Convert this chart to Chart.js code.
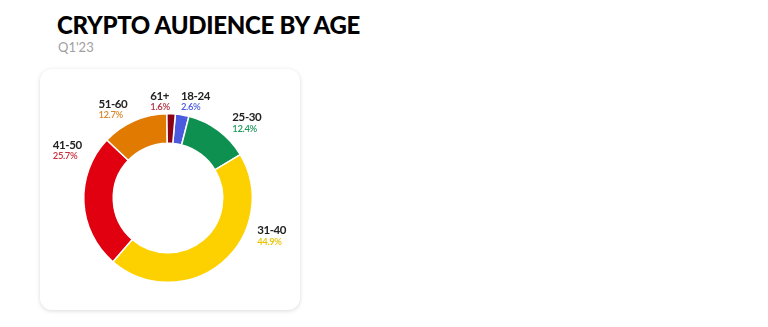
<!DOCTYPE html>
<html>
<head>
<meta charset="utf-8">
<script src="https://cdn.jsdelivr.net/npm/chart.js@4"></script>
<style>
  html, body { margin: 0; padding: 0; background: #fff; width: 768px; height: 327px; overflow: hidden; }
  h1 { position: absolute; left: 57px; top: 10px; margin: 0; font-family: Lato, sans-serif; font-weight: 900; font-size: 24px; letter-spacing: -0.3px; color: #000; }
  .sub { position: absolute; left: 58px; top: 39px; font-family: Lato, sans-serif; font-weight: 400; font-size: 13px; color: #a0a0a0; }
  .card { position: absolute; left: 40px; top: 69px; width: 260px; height: 241px; border-radius: 12px; background: #fff; box-shadow: 0 1px 4px rgba(0,0,0,0.15); }
  #ageChart { position: absolute; left: 40px; top: 69px; }
</style>
</head>
<body>
<h1>CRYPTO AUDIENCE BY AGE</h1>
<div class="sub">Q1'23</div>
<div class="card"></div>
<canvas id="ageChart" width="280" height="256"></canvas>
<script>
// Faixas etárias e participação (%)
const ageGroups = ["18-24", "25-30", "31-40", "41-50", "51-60", "61+"];
const shares = [2.6, 12.4, 44.9, 25.7, 12.7, 1.6];
const shareLabels = ["2.6%", "12.4%", "44.9%", "25.7%", "12.7%", "1.6%"];

const sliceColors = ["#4b5be0", "#0e9150", "#fdd000", "#e1000f", "#e17a00", "#8b0012"];
const pctColors = ["#4b5be0", "#1f9a5c", "#e8c200", "#c8303c", "#d98a2e", "#b03040"];

// Onde fica cada rótulo: ângulo (graus a partir do topo) e distância relativa ao raio
const labelSpots = [
  { angle: 7.6, dist: 1.163 },
  { angle: 40.5, dist: 1.176 },
  { angle: 112.9, dist: 1.149 },
  { angle: 298.9, dist: 1.169 },
  { angle: 335.5, dist: 1.163 },
  { angle: 1.0, dist: 1.153 },
];

const nameFont = "bold 11.5px Lato, sans-serif";
const pctFont = "600 9.5px Lato, sans-serif";

// Plugin simples para desenhar os rótulos fora do anel
const outsideLabels = {
  id: "outsideLabels",
  afterDatasetsDraw(chart) {
    const ctx = chart.ctx;
    const arcs = chart.getDatasetMeta(0).data;
    arcs.forEach((arc, i) => {
      const spot = labelSpots[i];
      const a = spot.angle * Math.PI / 180;
      const r = arc.outerRadius * spot.dist;
      const x = arc.x + Math.sin(a) * r;
      const y = arc.y - Math.cos(a) * r;

      ctx.save();
      ctx.letterSpacing = "-0.4px";
      ctx.font = nameFont;
      const w1 = ctx.measureText(ageGroups[i]).width;
      ctx.font = pctFont;
      const w2 = ctx.measureText(shareLabels[i]).width;
      const w = Math.max(w1, w2);
      // 61+ fica à esquerda do topo, os outros seguem o lado do centro
      const onRight = i === 5 ? false : x >= arc.x;
      const left = onRight ? x : x - w;

      ctx.textAlign = "left";
      ctx.textBaseline = "middle";
      ctx.fillStyle = "#222";
      ctx.font = nameFont;
      ctx.fillText(ageGroups[i], left, y - 5);
      ctx.fillStyle = pctColors[i];
      ctx.font = pctFont;
      ctx.fillText(shareLabels[i], left, y + 6);
      ctx.restore();
    });
  },
};

const chartEl = document.getElementById("ageChart");

new Chart(chartEl, {
  type: "doughnut",
  data: {
    labels: ageGroups,
    datasets: [
      {
        data: shares,
        backgroundColor: sliceColors,
        borderColor: "#fff",
        borderWidth: 1.5,
      },
    ],
  },
  options: {
    responsive: false,
    animation: false,
    rotation: 5,
    cutout: "65%",
    layout: { padding: { left: 43, right: 67, top: 44, bottom: 42 } },
    plugins: {
      legend: { display: false },
      tooltip: { enabled: false },
    },
  },
  plugins: [outsideLabels],
});
</script>
</body>
</html>
